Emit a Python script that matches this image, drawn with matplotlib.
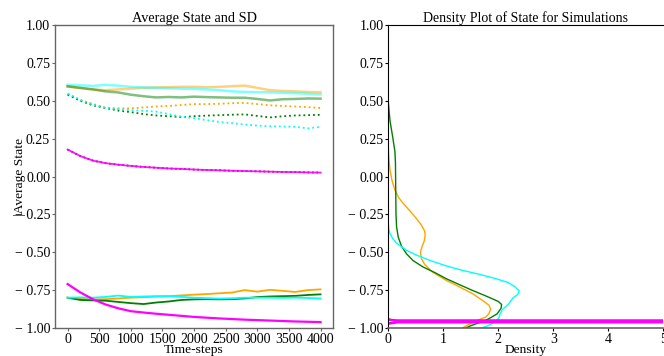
import matplotlib
matplotlib.use("Agg")
import matplotlib.pyplot as plt
import numpy as np

plt.rcParams['font.family'] = ['Liberation Serif', 'DejaVu Serif']
plt.rcParams['font.size'] = 10

# time axis, one sample every 200 steps
steps = list(range(0, 4001, 200))

# upper group: standard deviation (solid, faded) and mean (dotted)
sd_orange = [0.595, 0.585, 0.575, 0.570, 0.575, 0.580, 0.585, 0.588, 0.590, 0.592,
             0.592, 0.590, 0.592, 0.596, 0.600, 0.585, 0.570, 0.565, 0.562, 0.558, 0.556]
sd_cyan = [0.605, 0.602, 0.598, 0.605, 0.600, 0.592, 0.588, 0.585, 0.583, 0.580,
           0.578, 0.575, 0.570, 0.562, 0.558, 0.557, 0.556, 0.552, 0.550, 0.546, 0.542]
sd_green = [0.595, 0.585, 0.575, 0.562, 0.555, 0.540, 0.530, 0.522, 0.525, 0.522,
            0.527, 0.524, 0.522, 0.520, 0.520, 0.512, 0.502, 0.510, 0.512, 0.515, 0.514]
avg_orange = [0.545, 0.505, 0.480, 0.452, 0.450, 0.450, 0.456, 0.462, 0.466, 0.472,
              0.478, 0.478, 0.480, 0.484, 0.486, 0.478, 0.470, 0.466, 0.462, 0.458, 0.452]
avg_green = [0.540, 0.500, 0.470, 0.452, 0.435, 0.425, 0.412, 0.403, 0.398, 0.392,
             0.398, 0.402, 0.405, 0.408, 0.410, 0.400, 0.390, 0.398, 0.403, 0.405, 0.407]
avg_cyan = [0.548, 0.505, 0.475, 0.452, 0.445, 0.438, 0.434, 0.428, 0.412, 0.395,
            0.385, 0.372, 0.360, 0.352, 0.343, 0.336, 0.332, 0.330, 0.328, 0.318, 0.328]

# middle group: three overlapping runs
avg_mid = [0.178, 0.135, 0.105, 0.088, 0.078, 0.070, 0.063, 0.058, 0.053, 0.050,
           0.046, 0.043, 0.041, 0.038, 0.036, 0.034, 0.032, 0.030, 0.029, 0.027, 0.026]

# lower group
low_orange = [-0.800, -0.808, -0.812, -0.810, -0.805, -0.800, -0.797, -0.793, -0.790, -0.785,
              -0.780, -0.776, -0.771, -0.766, -0.750, -0.760, -0.748, -0.755, -0.762, -0.750, -0.745]
low_green = [-0.800, -0.815, -0.818, -0.820, -0.828, -0.836, -0.842, -0.832, -0.825, -0.815,
             -0.811, -0.810, -0.811, -0.810, -0.805, -0.796, -0.792, -0.790, -0.788, -0.782, -0.778]
low_cyan = [-0.800, -0.798, -0.800, -0.795, -0.786, -0.795, -0.792, -0.790, -0.790, -0.795,
            -0.800, -0.803, -0.806, -0.804, -0.800, -0.800, -0.800, -0.801, -0.800, -0.802, -0.805]
low_magenta = [-0.710, -0.765, -0.810, -0.845, -0.870, -0.889, -0.898, -0.906, -0.913, -0.920,
               -0.927, -0.932, -0.937, -0.941, -0.945, -0.948, -0.951, -0.954, -0.957, -0.959, -0.961]

# density curves (state value, density)
dens_green_y = [0.49, 0.37, 0.26, 0.165, 0.09, -0.09, -0.25, -0.33, -0.40, -0.46,
                -0.51, -0.555, -0.597, -0.635, -0.674, -0.715, -0.752, -0.785, -0.807,
                -0.825, -0.845, -0.87, -0.906, -0.93, -0.95, -0.965, -0.985, -1.01]
dens_green_x = [0.0, 0.03, 0.08, 0.12, 0.13, 0.135, 0.14, 0.15, 0.18, 0.24,
                0.33, 0.45, 0.63, 0.85, 1.05, 1.30, 1.53, 1.75, 1.89,
                2.00, 2.06, 2.05, 1.98, 1.87, 1.77, 1.65, 1.50, 1.35]
dens_orange_y = [0.19, 0.12, 0.043, -0.03, -0.09, -0.14, -0.177, -0.23, -0.277, -0.32,
                 -0.36, -0.39, -0.43, -0.465, -0.50, -0.54, -0.58, -0.63, -0.685,
                 -0.73, -0.773, -0.82, -0.85, -0.875, -0.905, -0.928, -0.95, -0.98, -1.01]
dens_orange_x = [0.0, 0.01, 0.03, 0.07, 0.12, 0.19, 0.27, 0.40, 0.51, 0.60,
                 0.66, 0.67, 0.65, 0.61, 0.585, 0.60, 0.66, 0.80, 1.05,
                 1.30, 1.53, 1.72, 1.83, 1.86, 1.83, 1.77, 1.62, 1.45, 1.29]
dens_cyan_y = [-0.31, -0.35, -0.376, -0.41, -0.44, -0.487, -0.52, -0.553, -0.59, -0.62,
               -0.645, -0.674, -0.70, -0.73, -0.756, -0.78, -0.80, -0.84, -0.88,
               -0.91, -0.939, -0.965, -0.99, -1.01]
dens_cyan_x = [0.0, 0.01, 0.03, 0.08, 0.15, 0.33, 0.52, 0.75, 1.05, 1.35,
               1.65, 1.95, 2.18, 2.31, 2.38, 2.35, 2.27, 2.19, 2.07,
               2.03, 2.00, 1.92, 1.78, 1.59]
# narrow runs: density spikes far past the visible range
spike_red_y = [-0.940, -0.948, -0.949, -0.955, -0.961, -0.962, -0.970]
spike_red_x = [0.0, 0.12, 40.0, 90.0, 40.0, 0.12, 0.0]
spike_blue_y = [-0.944, -0.952, -0.953, -0.957, -0.961, -0.962, -0.970]
spike_blue_x = [0.0, 0.15, 40.0, 90.0, 40.0, 0.15, 0.0]
spike_mag_y = [-0.946, -0.953, -0.954, -0.958, -0.962, -0.963, -0.972]
spike_mag_x = [0.0, 0.17, 40.0, 90.0, 40.0, 0.17, 0.0]

state_ticks = np.arange(-1, 1.01, 0.25)


def state_label(v, pos):
    if v < -1e-9:
        return '\u2212 %.2f' % -v
    return '%.2f' % abs(v)


fig = plt.figure(figsize=(6.64, 3.56), dpi=100)
ax1 = fig.add_axes([0.0828, 0.0787, 0.4190, 0.851])
ax2 = fig.add_axes([0.5848, 0.0787, 0.4142, 0.851])

ax1.plot(steps, sd_orange, color='orange', alpha=0.5, lw=1.8)
ax1.plot(steps, sd_cyan, color='cyan', alpha=0.5, lw=1.8)
ax1.plot(steps, sd_green, color='green', alpha=0.5, lw=1.8)
ax1.plot(steps, avg_orange, color='orange', ls=':', lw=1.3)
ax1.plot(steps, avg_green, color='green', ls=':', lw=1.3)
ax1.plot(steps, avg_cyan, color='cyan', ls=':', lw=1.3)

ax1.plot(steps, avg_mid, color='red', ls=':', lw=1.2)
ax1.plot(steps, avg_mid, color='blue', ls=':', lw=1.2, alpha=0.5)
ax1.plot(steps, avg_mid, color='magenta', lw=1.3, alpha=0.9)

ax1.plot(steps, low_orange, color='orange', lw=1.3)
ax1.plot(steps, low_green, color='green', lw=1.3)
ax1.plot(steps, low_cyan, color='cyan', lw=1.3)
ax1.plot(steps, low_magenta, color='magenta', lw=1.6)

ax1.set_ylim(-1, 1)
ax1.set_xticks(range(0, 4001, 500))
ax1.set_yticks(state_ticks)
ax1.yaxis.set_major_formatter(plt.FuncFormatter(state_label))
ax1.set_title('Average State and SD', pad=2.5, fontsize=10.3)
ax1.set_xlabel('Time-steps', labelpad=-1.5, fontsize=9.7)
ax1.set_ylabel('|Average State', fontsize=9.7)
ax1.yaxis.set_label_coords(-0.105, 0.5)
for s in ax1.spines.values():
    s.set_color('0.4')
    s.set_linewidth(1.0)
ax1.tick_params(colors='0.4', labelcolor='black', length=2.5, pad=1)

ax2.plot(dens_orange_x, dens_orange_y, color='orange', lw=1.0)
ax2.plot(dens_green_x, dens_green_y, color='green', lw=1.0)
ax2.plot(dens_cyan_x, dens_cyan_y, color='cyan', lw=1.0)
ax2.plot(spike_red_x, spike_red_y, color='red', lw=1.0)
ax2.plot(spike_blue_x, spike_blue_y, color='blue', lw=1.0)
ax2.plot(spike_mag_x, spike_mag_y, color='magenta', lw=1.6)

ax2.set_xlim(0, 5)
ax2.set_ylim(-1, 1)
ax2.set_yticks(state_ticks)
ax2.yaxis.set_major_formatter(plt.FuncFormatter(state_label))
ax2.set_title('Density Plot of State for Simulations', pad=2.5, fontsize=10.0)
ax2.set_xlabel('Density', labelpad=-1.5, fontsize=9.7)
ax2.spines['right'].set_visible(False)
ax2.spines['bottom'].set_color('0.4')
ax2.spines['bottom'].set_linewidth(1.2)
ax2.tick_params(length=2.5, pad=1)

fig.savefig('out.png', dpi=100)
